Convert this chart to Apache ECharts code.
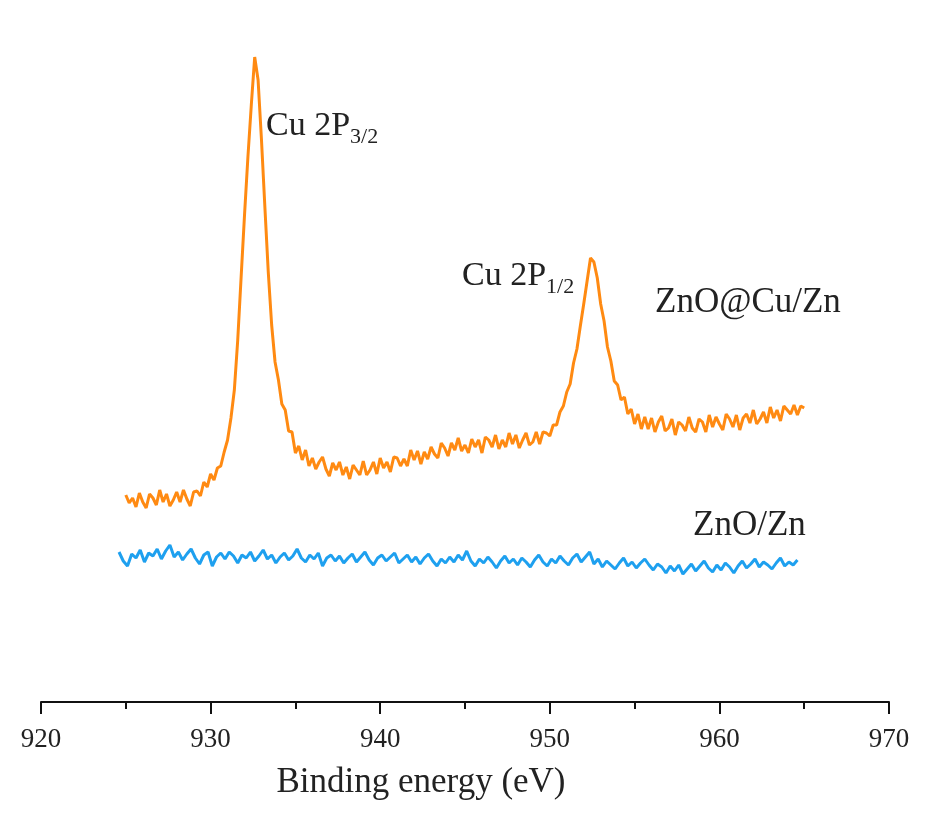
<!DOCTYPE html>
<html>
<head>
    <meta charset="utf-8" />
    <title>XPS Cu 2p</title>
    <script src="https://cdn.jsdelivr.net/npm/echarts@6/dist/echarts.min.js"></script>
    <style>
        html, body { margin: 0; padding: 0; background: #fff; }
        #main { width: 930px; height: 830px; }
    </style>
</head>
<body>
    <div id="main"></div>
    <script type="text/javascript">
        // x axis ticks
        var xTicks = [920, 930, 940, 950, 960, 970];

        // ZnO@Cu/Zn spectrum, 925.0 eV upward in 0.2 eV steps (intensity, arbitrary units)
        var cuStart = 925.0, cuStep = 0.2;
        var cuValues = [
            207, 199, 204, 195, 209, 200, 194, 208, 204, 197,
            212, 200, 208, 196, 202, 210, 200, 212, 203, 196,
            210, 211, 206, 220, 215, 228, 222, 234, 236, 250,
            262, 284, 312, 362, 425, 487, 545, 597, 645, 622,
            562, 495, 430, 377, 340, 322, 298, 292, 271, 270,
            249, 256, 242, 252, 236, 244, 233, 240, 245, 233,
            226, 239, 232, 240, 227, 235, 223, 237, 232, 227,
            241, 227, 232, 240, 228, 244, 234, 240, 230, 245,
            244, 236, 243, 236, 252, 242, 251, 238, 250, 243,
            255, 248, 244, 259, 254, 246, 259, 252, 264, 251,
            257, 249, 263, 255, 262, 249, 265, 262, 255, 267,
            253, 262, 255, 269, 258, 267, 254, 262, 269, 257,
            260, 270, 258, 270, 269, 266, 277, 277, 290, 296,
            310, 318, 339, 353, 376, 398, 421, 444, 440, 424,
            398, 381, 355, 341, 321, 317, 302, 305, 288, 293,
            278, 288, 273, 285, 273, 284, 270, 280, 286, 271,
            274, 283, 267, 280, 277, 271, 285, 274, 270, 283,
            280, 270, 287, 275, 285, 278, 272, 288, 283, 275,
            287, 272, 284, 288, 279, 292, 278, 283, 290, 279,
            295, 284, 292, 281, 296, 292, 288, 297, 287, 296,
            294
        ];

        // ZnO/Zn spectrum, 924.6 eV upward in 0.25 eV steps
        var znStart = 924.6, znStep = 0.25;
        var znValues = [
            150, 141, 136, 148, 144, 152, 140, 149, 146, 153,
            143, 151, 157, 145, 150, 142, 148, 153, 144, 138,
            147, 150, 136, 145, 149, 143, 150, 146, 139, 147,
            144, 150, 141, 146, 152, 143, 147, 139, 145, 149,
            142, 146, 153, 144, 140, 147, 143, 149, 136, 144,
            147, 141, 146, 139, 144, 148, 140, 145, 150, 142,
            137, 144, 147, 141, 145, 149, 139, 143, 147, 140,
            145, 138, 144, 148, 141, 136, 143, 139, 145, 140,
            147, 142, 151, 141, 136, 143, 139, 145, 140, 134,
            141, 146, 139, 143, 137, 144, 140, 135, 142, 147,
            140, 136, 143, 139, 146, 141, 137, 144, 148, 140,
            145, 150, 138, 143, 135, 141, 137, 133, 139, 144,
            136, 140, 134, 139, 143, 137, 132, 138, 135, 129,
            136, 131, 137, 128, 133, 138, 131, 136, 141, 134,
            130, 137, 132, 139, 135, 129, 136, 141, 134, 138,
            143, 135, 140, 137, 133, 139, 144, 136, 140, 137,
            142
        ];

        function toPairs(start, step, vals) {
            var out = [];
            for (var i = 0; i < vals.length; i++) {
                out.push([+(start + i * step).toFixed(2), vals[i]]);
            }
            return out;
        }

        var serif = "'Liberation Serif', 'Times New Roman', 'DejaVu Serif', serif";
        var textColor = '#222';

        var myChart = echarts.init(document.getElementById('main'));

        var option = {
            backgroundColor: '#ffffff',
            animation: false,
            grid: { left: 41, right: 41, top: 40, bottom: 128 },
            xAxis: {
                type: 'value',
                min: xTicks[0],
                max: xTicks[xTicks.length - 1],
                interval: 10,
                axisLine: { show: true, onZero: false, lineStyle: { color: '#111', width: 2 } },
                axisTick: { show: true, length: 12, lineStyle: { color: '#111', width: 2 } },
                minorTick: { show: true, splitNumber: 2, length: 7, lineStyle: { color: '#111', width: 2 } },
                splitLine: { show: false },
                minorSplitLine: { show: false },
                axisLabel: { fontSize: 27, color: textColor, fontFamily: serif, margin: 24 }
            },
            yAxis: {
                type: 'value',
                min: 0,
                max: 662,
                show: false,
                splitLine: { show: false }
            },
            series: [{
                name: 'ZnO@Cu/Zn',
                type: 'line',
                showSymbol: false,
                data: toPairs(cuStart, cuStep, cuValues),
                lineStyle: { color: '#ff8a12', width: 3 },
                itemStyle: { color: '#ff8a12' }
            }, {
                name: 'ZnO/Zn',
                type: 'line',
                showSymbol: false,
                data: toPairs(znStart, znStep, znValues),
                lineStyle: { color: '#1ea0ef', width: 3 },
                itemStyle: { color: '#1ea0ef' }
            }],
            graphic: [{
                type: 'text', x: 266, y: 104,
                style: {
                    text: '{a|Cu 2P}{b|3/2}',
                    fill: textColor,
                    rich: {
                        a: { fontSize: 34, fontFamily: serif, fill: textColor },
                        b: { fontSize: 22, fontFamily: serif, fill: textColor, padding: [22, 0, 0, 0] }
                    }
                }
            }, {
                type: 'text', x: 462, y: 254,
                style: {
                    text: '{a|Cu 2P}{b|1/2}',
                    fill: textColor,
                    rich: {
                        a: { fontSize: 34, fontFamily: serif, fill: textColor },
                        b: { fontSize: 22, fontFamily: serif, fill: textColor, padding: [22, 0, 0, 0] }
                    }
                }
            }, {
                type: 'text', x: 655, y: 285,
                style: { text: 'ZnO@Cu/Zn', fontSize: 35, fontFamily: serif, fill: textColor }
            }, {
                type: 'text', x: 693, y: 508,
                style: { text: 'ZnO/Zn', fontSize: 35, fontFamily: serif, fill: textColor }
            }, {
                type: 'text', x: 421, y: 765,
                style: { text: 'Binding energy (eV)', fontSize: 35, fontFamily: serif, fill: textColor, textAlign: 'center' }
            }]
        };

        myChart.setOption(option);
    </script>
</body>
</html>
